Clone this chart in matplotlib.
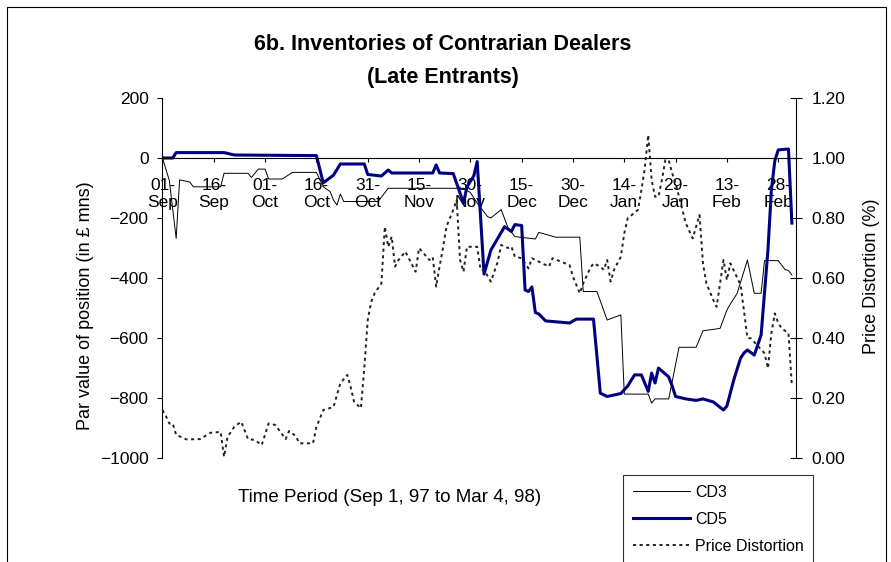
import numpy as np
import matplotlib
matplotlib.use("Agg")
import matplotlib.pyplot as plt
from matplotlib.lines import Line2D
from matplotlib.patches import Rectangle

plt.rcParams['font.family'] = ['Liberation Sans', 'DejaVu Sans']

# Days counted from 1 Sep 1997
tick_days = [0, 15, 30, 45, 60, 75, 90, 105, 120, 135, 150, 165, 180]
tick_labels = ["01-\nSep", "16-\nSep", "01-\nOct", "16-\nOct", "31-\nOct", "15-\nNov",
               "30-\nNov", "15-\nDec", "30-\nDec", "14-\nJan", "29-\nJan", "13-\nFeb", "28-\nFeb"]

# CD3 inventory (par value, GBP mns)
cd3_days = [0, 2, 4, 5, 8, 9, 17, 18, 25, 26, 28, 30, 31, 35, 38, 45, 47, 49, 50, 51,
            52, 53, 63, 66, 88, 90, 92, 95, 96, 99, 101, 103, 109, 110, 115, 122, 123,
            127, 130, 134, 135, 142, 143, 144, 148, 151, 156, 158, 163, 165, 166, 168,
            171, 173, 175, 176, 180, 182, 183, 184]
cd3_vals = [0, -75, -268, -73, -80, -96, -96, -51, -51, -65, -37, -37, -70, -70, -48, -48,
            -96, -112, -140, -157, -120, -145, -145, -101, -101, -115, -150, -195, -200,
            -172, -232, -262, -270, -248, -264, -264, -445, -445, -540, -523, -787, -787,
            -817, -803, -803, -631, -631, -576, -568, -507, -487, -451, -340, -451, -451,
            -342, -342, -372, -375, -390]

# CD5 inventory (par value, GBP mns)
cd5_days = [0, 3, 4, 18, 21, 45, 47, 50, 52, 59, 60, 64, 66, 67, 79, 80, 81, 85, 88, 89,
            91, 92, 94, 96, 100, 102, 103, 105, 106, 107, 108, 109, 110, 112, 119, 121,
            126, 128, 130, 134, 136, 138, 140, 142, 143, 144, 145, 148, 149, 150, 153,
            156, 158, 161, 164, 165, 167, 169, 170, 171, 173, 175, 177, 178, 179, 180,
            183, 184]
cd5_vals = [0, 0, 18, 18, 10, 8, -83, -57, -20, -20, -55, -60, -40, -50, -50, -23, -50,
            -52, -150, -96, -60, -12, -387, -307, -229, -245, -222, -225, -440, -445,
            -430, -515, -520, -543, -550, -537, -537, -784, -795, -785, -760, -723, -723,
            -778, -717, -750, -700, -730, -760, -795, -803, -808, -803, -813, -840, -827,
            -740, -667, -650, -640, -657, -590, -307, -107, -10, 27, 30, -217]

# Price distortion (%)
pd_days = [0, 1, 2, 3, 4, 7, 11, 14, 17, 18, 19, 21, 23, 25, 27, 29, 31, 33, 36, 37, 39,
           40, 44, 45, 46, 47, 50, 51, 52, 54, 55, 56, 58, 59, 60, 61, 62, 64, 65, 66,
           67, 68, 69, 71, 74, 75, 78, 79, 80, 81, 82, 83, 85, 86, 87, 88, 89, 92, 93,
           94, 96, 98, 99, 101, 102, 103, 105, 107, 108, 109, 113, 114, 119, 120, 122,
           123, 125, 126, 128, 129, 130, 131, 132, 134, 135, 136, 139, 140, 141, 142,
           143, 144, 145, 146, 147, 148, 149, 150, 153, 155, 157, 158, 159, 161, 162,
           163, 164, 165, 166, 169, 170, 171, 172, 176, 177, 178, 179, 180, 181, 183, 184]
pd_vals = [0.16, 0.14, 0.115, 0.115, 0.077, 0.062, 0.063, 0.084, 0.087, 0.004, 0.07, 0.104,
           0.121, 0.063, 0.06, 0.043, 0.115, 0.11, 0.063, 0.09, 0.073, 0.049, 0.049, 0.104,
           0.132, 0.16, 0.17, 0.21, 0.249, 0.277, 0.237, 0.188, 0.166, 0.3, 0.46, 0.52,
           0.549, 0.582, 0.771, 0.704, 0.738, 0.638, 0.66, 0.688, 0.621, 0.7, 0.66, 0.67,
           0.571, 0.638, 0.7, 0.771, 0.827, 0.86, 0.66, 0.621, 0.704, 0.704, 0.627, 0.627,
           0.588, 0.654, 0.71, 0.70, 0.705, 0.671, 0.666, 0.632, 0.666, 0.66, 0.638, 0.666,
           0.643, 0.604, 0.549, 0.582, 0.632, 0.649, 0.638, 0.627, 0.66, 0.588, 0.627,
           0.671, 0.749, 0.799, 0.827, 0.893, 0.966, 1.077, 0.927, 0.871, 0.871, 0.927,
           0.993, 0.993, 0.949, 0.916, 0.782, 0.732, 0.81, 0.649, 0.582, 0.527, 0.504,
           0.582, 0.66, 0.593, 0.649, 0.577, 0.49, 0.40, 0.399, 0.349, 0.299, 0.416, 0.482,
           0.45, 0.432, 0.416, 0.24]

W, H = 891, 562
fig = plt.figure(figsize=(W / 100, H / 100), dpi=100)
fig.patch.set_facecolor('white')

# outer chart border
fig.patches.append(Rectangle((7 / W, -0.05), (886 - 7) / W, 1.05 - 7 / H,
                             transform=fig.transFigure, fill=False,
                             edgecolor='black', linewidth=0.8))

ax = fig.add_axes([161.7 / W, 1 - 458 / H, (796 - 161.7) / W, 360 / H])
ax2 = ax.twinx()

dot_style = (0, (1.6, 1.8))
ax.plot(cd3_days, cd3_vals, color='black', lw=0.7)
ax.plot(cd5_days, cd5_vals, color='#000080', lw=2.2)
ax2.plot(pd_days, pd_vals, color='#222222', lw=1.4, linestyle=dot_style)

ax.set_xlim(-0.23, 185.2)
ax.set_ylim(-1000, 200)
ax2.set_ylim(0, 1.2)

for a in (ax, ax2):
    a.spines['top'].set_visible(False)
ax.spines['right'].set_visible(False)
ax2.spines['left'].set_visible(False)
ax2.spines['bottom'].set_visible(False)
ax.spines['bottom'].set_position(('data', 0))
for s in ('left', 'bottom'):
    ax.spines[s].set_linewidth(0.8)
ax2.spines['right'].set_linewidth(0.8)

ax.set_xticks(tick_days)
ax.set_xticklabels(tick_labels, linespacing=1.15)
ax.tick_params(axis='x', direction='out', length=3, width=0.8, pad=11.5, labelsize=12.5)

ax.set_yticks(np.arange(-1000, 201, 200))
ax.tick_params(axis='y', direction='out', length=3.5, width=0.8, pad=6, labelsize=12.5)

ax2.set_yticks(np.arange(0, 1.21, 0.2))
ax2.set_yticklabels([f"{v:.2f}" for v in np.arange(0, 1.21, 0.2)])
ax2.tick_params(axis='y', direction='inout', length=8.5, width=0.8, pad=7, labelsize=12.5)

fig.text(0.497, 1 - 45 / H, "6b. Inventories of Contrarian Dealers", ha='center',
         va='center', fontsize=15.5, fontweight='bold')
fig.text(0.497, 1 - 77 / H, "(Late Entrants)", ha='center', va='center',
         fontsize=15.5, fontweight='bold')

fig.text(85 / W, 1 - 306 / H, "Par value of position (in £ mns)", rotation=90,
         ha='center', va='center', fontsize=13)
fig.text(872 / W, 1 - 276 / H, "Price Distortion (%)", rotation=90,
         ha='center', va='center', fontsize=13)
fig.text(390 / W, 1 - 498 / H, "Time Period (Sep 1, 97 to Mar 4, 98)",
         ha='center', va='center', fontsize=13.5)

handles = [Line2D([], [], color='black', lw=0.7),
           Line2D([], [], color='#000080', lw=2.2),
           Line2D([], [], color='#222222', lw=1.4, linestyle=dot_style)]
leg = fig.legend(handles, ["CD3", "CD5", "Price Distortion"], loc='upper left',
                 bbox_to_anchor=(623 / W, 1 - 475 / H), borderaxespad=0,
                 frameon=True, fancybox=False, shadow=False, fontsize=11.5,
                 handlelength=3.6, handletextpad=0.3, labelspacing=0.75,
                 borderpad=0.6)
leg.get_frame().set_edgecolor('black')
leg.get_frame().set_linewidth(0.8)

fig.savefig('out.png', dpi=100)
